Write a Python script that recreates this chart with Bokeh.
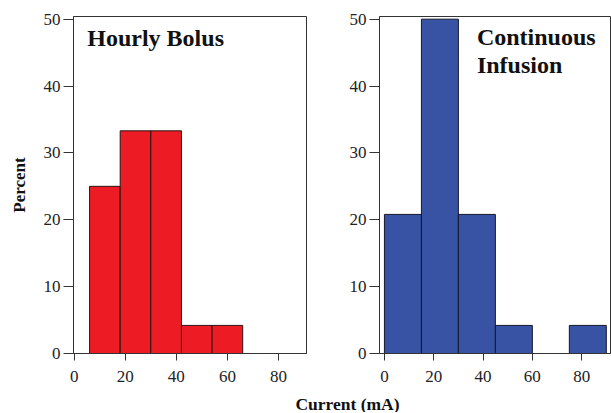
from bokeh.plotting import figure
from bokeh.layouts import column, row
from bokeh.models import Range1d, FixedTicker, Label
from bokeh.embed import file_html
from bokeh.resources import INLINE

# ---- data ----
bolus_edges = [6, 18, 30, 42, 54, 66]
bolus_pct = [25.0, 33.3, 33.3, 4.2, 4.2]
infusion_edges = [0, 15, 30, 45, 60, 75, 90]
infusion_pct = [20.8, 50.0, 20.8, 4.2, 0.0, 4.2]
x_ticks = [0, 20, 40, 60, 80]
y_ticks = [0, 10, 20, 30, 40, 50]
panel_titles = ["Hourly Bolus", "Continuous", "Infusion"]
y_label = "Percent"
x_label = "Current (mA)"

FONT = "Liberation Serif"
AX = "#333333"
RED = "#ED1C24"
BLUE = "#3953A4"


def style(p, ylab=None):
    p.xgrid.visible = False
    p.ygrid.visible = False
    p.outline_line_color = AX
    p.outline_line_width = 1
    p.background_fill_color = "white"
    p.border_fill_color = "white"
    for ax in (p.xaxis[0], p.yaxis[0]):
        ax.axis_line_color = AX
        ax.major_tick_line_color = AX
        ax.minor_tick_line_color = None
        ax.major_tick_in = 0
        ax.major_label_text_font = FONT
        ax.major_label_text_font_size = "17px"
        ax.major_label_text_color = "#222222"
    p.xaxis[0].ticker = FixedTicker(ticks=x_ticks)
    p.yaxis[0].ticker = FixedTicker(ticks=y_ticks)
    p.xaxis[0].major_tick_out = 7
    p.yaxis[0].major_tick_out = 10
    p.xaxis[0].major_label_standoff = 10
    p.yaxis[0].major_label_standoff = 3
    if ylab:
        p.yaxis[0].axis_label = ylab
        p.yaxis[0].axis_label_text_font = FONT
        p.yaxis[0].axis_label_text_font_style = "bold"
        p.yaxis[0].axis_label_text_font_size = "17px"
        p.yaxis[0].axis_label_text_color = "#111111"
        p.yaxis[0].axis_label_standoff = 12


H = 391
p1 = figure(width=343, height=H, output_backend="svg", toolbar_location=None,
            x_range=Range1d(-0.3, 91), y_range=Range1d(0, 50.4),
            min_border_left=73, min_border_right=37, min_border_top=16, min_border_bottom=38)
style(p1, y_label)
p1.quad(left=bolus_edges[:-1], right=bolus_edges[1:], bottom=0, top=bolus_pct,
        fill_color=RED, line_color="#2b1414", line_width=1)
p1.add_layout(Label(x=5.1, y=47.2, text=panel_titles[0], text_font=FONT,
                    text_font_style="bold", text_font_size="24px",
                    text_color="#111111", text_baseline="alphabetic"))

p2 = figure(width=268, height=H, output_backend="svg", toolbar_location=None,
            x_range=Range1d(-2, 91.7), y_range=Range1d(0, 50.4),
            min_border_left=36, min_border_right=1, min_border_top=16, min_border_bottom=38)
style(p2)
p2.quad(left=infusion_edges[:-1], right=infusion_edges[1:], bottom=0, top=infusion_pct,
        fill_color=BLUE, line_color="#14182b", line_width=1)
p2.add_layout(Label(x=37.5, y=47.3, text=panel_titles[1], text_font=FONT,
                    text_font_style="bold", text_font_size="24px",
                    text_color="#111111", text_baseline="alphabetic"))
p2.add_layout(Label(x=37.5, y=43.1, text=panel_titles[2], text_font=FONT,
                    text_font_style="bold", text_font_size="24px",
                    text_color="#111111", text_baseline="alphabetic"))

p3 = figure(width=611, height=21, output_backend="svg", toolbar_location=None,
            x_range=Range1d(0, 611), y_range=Range1d(0, 21), min_border=0)
p3.axis.visible = False
p3.xgrid.visible = False
p3.ygrid.visible = False
p3.outline_line_color = None
p3.add_layout(Label(x=347, y=9, text=x_label, text_font=FONT,
                    text_font_style="bold", text_font_size="17.5px",
                    text_color="#111111", text_align="center", text_baseline="middle"))

layout = column(row(p1, p2), p3)
open("out.html", "w").write(file_html(layout, INLINE))
